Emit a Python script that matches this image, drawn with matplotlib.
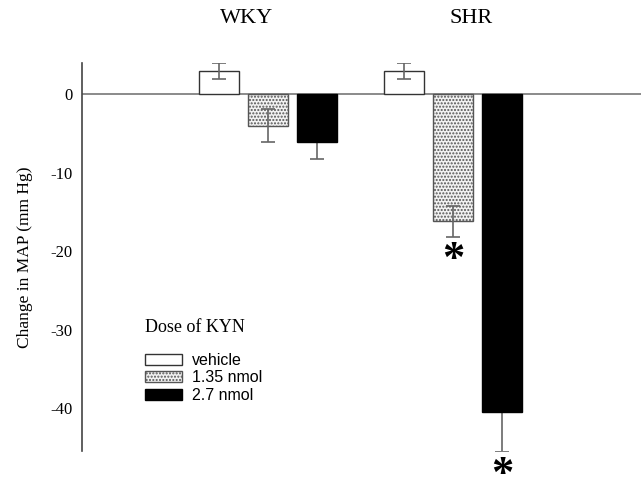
import numpy as np
from matplotlib import pyplot as plt

# donnees
groupes = ['WKY', 'SHR']
doses = ['vehicle', '1.35 nmol', '2.7 nmol']
wky_moy = [3.0, -4.0, -6.1]
wky_err = [1.0, 2.1, 2.1]
shr_moy = [3.0, -16.2, -40.5]
shr_err = [1.0, 2.0, 5.1]
significatif = [False, True, True]   # etoiles pour SHR

serif = ['Liberation Serif', 'DejaVu Serif']
sans = ['Liberation Sans', 'DejaVu Sans']

fig = plt.figure(figsize=(6.41, 4.79), dpi=100)
ax = fig.add_axes([82/641, 28/479, 559/641, 388/479])

centres = [4.65, 9.275]
pos_titres = [4.125, 9.725]
decal = 1.225
largeur = 1.0
styles = [dict(facecolor='white', edgecolor='#333333', hatch=None),
          dict(facecolor='#f2f2f2', edgecolor='#555555', hatch='.....'),
          dict(facecolor='black', edgecolor='black', hatch=None)]
ordre = [2, 2, 4]   # barre noire par-dessus la barre d'erreur

moyennes = [wky_moy, shr_moy]
erreurs = [wky_err, shr_err]
for g in range(len(groupes)):
    for d in range(len(doses)):
        x = centres[g] + (d - 1)*decal
        ax.bar(x, moyennes[g][d], width=largeur, lw=1, zorder=ordre[d],
               label=doses[d] if g == 0 else None, **styles[d])
        ax.errorbar(x, moyennes[g][d], yerr=erreurs[g][d], fmt='none',
                    ecolor='#666666', elinewidth=1.2, capsize=5, capthick=1.2, zorder=3)
    ax.text(pos_titres[g], 9.7, groupes[g], ha='center', va='center',
            fontsize=16, family=serif, clip_on=False)

# etoiles sous les barres SHR
for d in range(len(doses)):
    if significatif[d]:
        x = centres[1] + (d - 1)*decal
        y = shr_moy[d] - shr_err[d] - 2.9
        ax.text(x, y, '*', ha='center', va='center', fontsize=32,
                fontweight='bold', family=serif, clip_on=False)

ax.axhline(0, color='#777777', lw=1.2, zorder=1)

ax.set_xlim(0, 13.975)
ax.set_ylim(-45.5, 4)
ax.set_xticks([])
ax.set_yticks([0, -10, -20, -30, -40])
ax.set_yticklabels(['0', '-10', '-20', '-30', '-40'], family=serif, fontsize=12)
ax.tick_params(axis='y', length=0, pad=7)
for s in ['top', 'right', 'bottom']:
    ax.spines[s].set_visible(False)
ax.spines['left'].set_color('#444444')
ax.spines['left'].set_linewidth(1.2)
ax.set_ylabel('Change in MAP (mm Hg)', family=serif, fontsize=12.5, labelpad=12)

leg = ax.legend(loc='upper left', bbox_to_anchor=(131/641, 1 - 305/479),
                bbox_transform=fig.transFigure, frameon=False,
                title='Dose of KYN', prop={'family': sans, 'size': 11.5},
                handlelength=2.3, handleheight=0.7, labelspacing=0.15,
                handletextpad=0.6, alignment='left')
leg.get_title().set_family(serif)
leg.get_title().set_fontsize(13)
leg._legend_box.sep = 12

fig.savefig('out.png', dpi=100)
